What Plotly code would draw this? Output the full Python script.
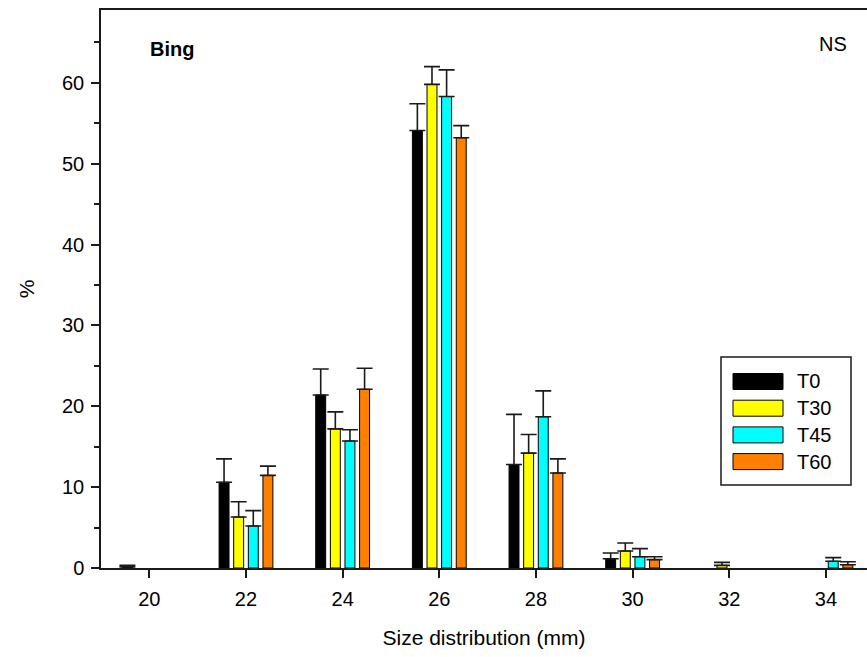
import plotly.graph_objects as go

# ---- data ----
sizes = [20, 22, 24, 26, 28, 30, 32, 34]
series = ["T0", "T30", "T45", "T60"]
colors = ["#000000", "#ffff00", "#00ffff", "#ff7f00"]

t0 = [0.12, 10.6, 21.4, 54.1, 12.8, 1.15, 0.0, 0.0]
t30 = [0.0, 6.3, 17.2, 59.8, 14.2, 2.1, 0.33, 0.0]
t45 = [0.0, 5.2, 15.7, 58.3, 18.7, 1.4, 0.0, 0.83]
t60 = [0.0, 11.45, 22.1, 53.2, 11.75, 1.03, 0.0, 0.41]

t0_err = [0.2, 2.9, 3.2, 3.3, 6.2, 0.7, 0.0, 0.0]
t30_err = [0.0, 1.9, 2.1, 2.2, 2.3, 1.0, 0.37, 0.0]
t45_err = [0.0, 1.9, 1.4, 3.3, 3.2, 1.0, 0.0, 0.45]
t60_err = [0.0, 1.15, 2.6, 1.5, 1.75, 0.37, 0.0, 0.37]

values = [t0, t30, t45, t60]
errors = [t0_err, t30_err, t45_err, t60_err]

# ---- layout geometry (pixels) ----
W, H = 867, 657
ML, MR, MT, MB = 101, 0, 10, 89
PW = W - ML - MR
PH = H - MT - MB


def px2paper_x(px):
    return (px - ML) / PW


def px2paper_y(py):
    return (H - MB - py) / PH


FONT = "Liberation Sans, Arial, sans-serif"
LINE = "#1a1a1a"

fig = go.Figure()
for name, col, vals, errs in zip(series, colors, values, errors):
    ys = [v if (v > 0 or e > 0) else None for v, e in zip(vals, errs)]
    es = [e if (v > 0 or e > 0) else None for v, e in zip(vals, errs)]
    fig.add_trace(go.Bar(
        x=sizes, y=ys, name=name,
        marker=dict(color=col, line=dict(color="#000000", width=1)),
        error_y=dict(type="data", array=es, arrayminus=[0] * len(es),
                     symmetric=False, color=LINE, thickness=1.6, width=8),
        showlegend=False,
    ))

fig.update_layout(
    width=W, height=H,
    margin=dict(l=ML, r=MR, t=MT, b=MB),
    paper_bgcolor="white", plot_bgcolor="white",
    barmode="group", bargap=0.395, bargroupgap=0.32,
    font=dict(family=FONT, size=20, color="#000000"),
    xaxis=dict(
        range=[19, 34.85], tickmode="array", tickvals=sizes,
        ticktext=[str(s) for s in sizes],
        ticks="outside", ticklen=8, tickwidth=1.5, tickcolor=LINE,
        showline=True, linecolor=LINE, linewidth=1.5, mirror=True,
        showgrid=False, zeroline=False,
        tickfont=dict(size=20), ticklabelstandoff=4,
        title=dict(text="Size distribution (mm)", font=dict(size=21), standoff=22),
    ),
    yaxis=dict(
        range=[0, 69], tick0=0, dtick=10,
        ticks="outside", ticklen=8, tickwidth=1.5, tickcolor=LINE,
        minor=dict(dtick=5, ticks="outside", ticklen=5, tickwidth=1.5, tickcolor=LINE),
        showline=True, linecolor=LINE, linewidth=1.5,
        showgrid=False, zeroline=False,
        tickfont=dict(size=20), ticklabelstandoff=3,
        title=dict(text="%", font=dict(size=21), standoff=22),
    ),
)

annotations = [
    dict(text="<b>Bing</b>", x=px2paper_x(148), y=px2paper_y(49), xref="paper", yref="paper",
         xanchor="left", yanchor="middle", showarrow=False, font=dict(size=20)),
    dict(text="NS", x=px2paper_x(849), y=px2paper_y(44), xref="paper", yref="paper",
         xanchor="right", yanchor="middle", showarrow=False, font=dict(size=20)),
]

# ---- custom legend (box with long swatches) ----
shapes = [dict(type="rect", xref="paper", yref="paper",
               x0=px2paper_x(721), x1=px2paper_x(851),
               y0=px2paper_y(485), y1=px2paper_y(357),
               line=dict(color=LINE, width=1.5), fillcolor="white", layer="above")]
row0, step = 381.5, 26.7
for i, (name, col) in enumerate(zip(series, colors)):
    cy = row0 + i * step
    shapes.append(dict(type="rect", xref="paper", yref="paper",
                       x0=px2paper_x(733), x1=px2paper_x(783),
                       y0=px2paper_y(cy + 8), y1=px2paper_y(cy - 8),
                       line=dict(color="#000000", width=1), fillcolor=col, layer="above"))
    annotations.append(dict(text=name, x=px2paper_x(795), y=px2paper_y(cy), xref="paper",
                            yref="paper", xanchor="left", yanchor="middle",
                            showarrow=False, font=dict(size=20)))

fig.update_layout(shapes=shapes, annotations=annotations)
fig.write_html("out.html")
